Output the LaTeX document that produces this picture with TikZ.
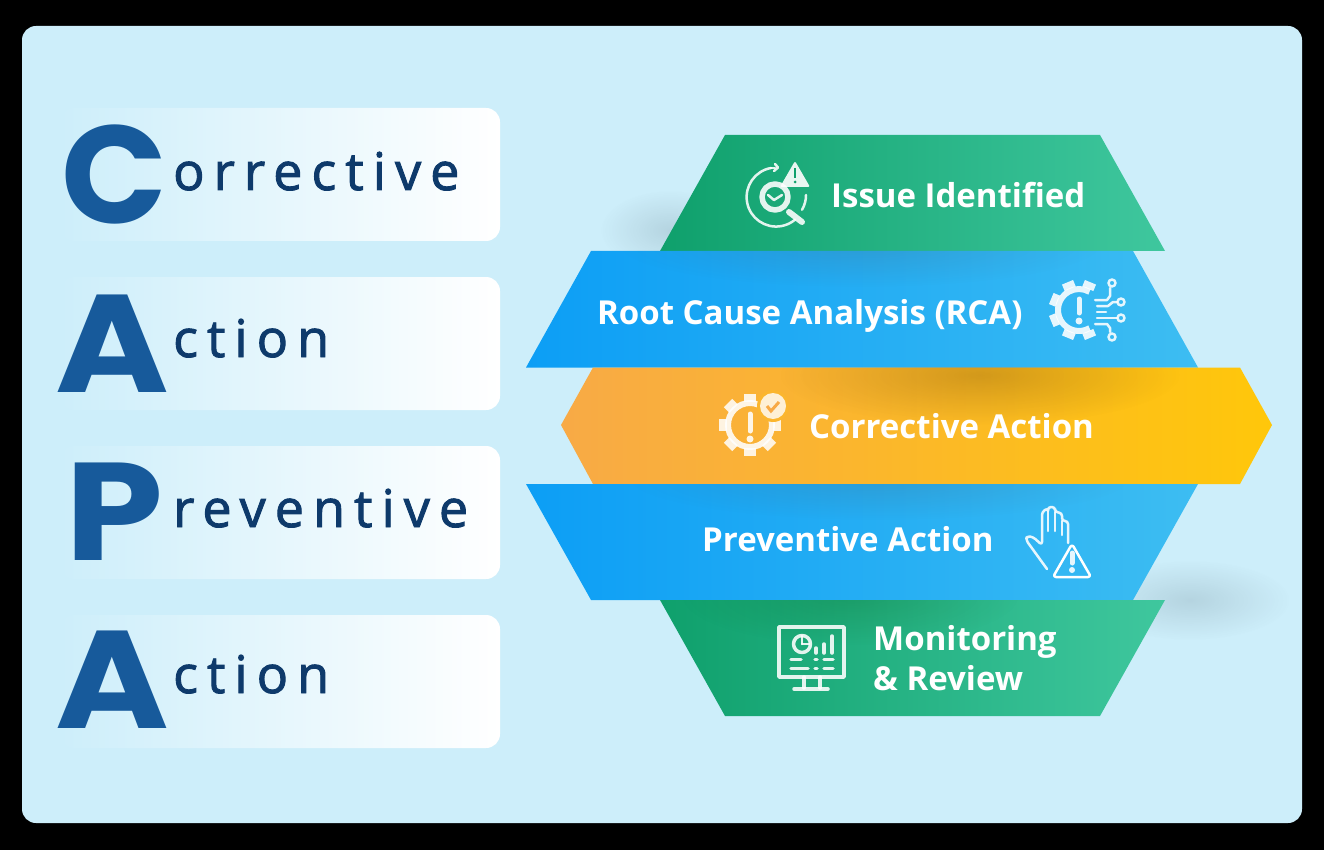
\documentclass[tikz,border=0pt]{standalone}
\usepackage{fontspec}
\usetikzlibrary{fadings}
\setmainfont{Open Sans}
\newfontfamily\capfont{Poppins}
\newfontfamily\wordfont[LetterSpace=17.5,FakeBold=1.8]{Open Sans}

\definecolor{panelblue}{HTML}{CDEEFA}
\definecolor{capblue}{HTML}{175A9B}
\definecolor{wordblue}{HTML}{0E3A6B}
\definecolor{greenL}{HTML}{0FA06C}
\definecolor{greenR}{HTML}{3FC79E}
\definecolor{blueL}{HTML}{0C9EF5}
\definecolor{blueR}{HTML}{3DBDF2}
\definecolor{orangeL}{HTML}{F8AA46}
\definecolor{orangeR}{HTML}{FFC70A}

\tikzfading[name=softblob, inner color=transparent!60, outer color=transparent!100]

\tikzset{
  wordbox/.style={left color=panelblue, middle color=panelblue!75!white, right color=white, rounded corners=14pt},
  capletter/.style={anchor=base, inner sep=0, font=\capfont\bfseries\fontsize{139}{139}\selectfont, text=capblue},
  wordtext/.style={anchor=base west, inner sep=0, font=\wordfont\fontsize{52}{60}\selectfont, text=wordblue},
  bandtext/.style={inner sep=0, text=white, align=left, font=\bfseries\fontsize{33}{39}\selectfont},
  blob/.style={fill=black!65!cyan, path fading=softblob},
  iconline/.style={draw=white, opacity=.88, line width=3.5pt, line cap=round, line join=round},
  iconthin/.style={draw=white, opacity=.88, line width=2.5pt, line cap=round, line join=round},
}

\begin{document}
\begin{tikzpicture}[x=1pt, y=-1pt]

\fill [black] (0,0) rectangle (1324,850) ;
\useasboundingbox (0,0) rectangle (1324,850) ;
\fill [panelblue, rounded corners=14pt] (22,26) rectangle (1302,823) ;

\shade [wordbox] (60,108) rectangle (500,241) ;
\shade [wordbox] (60,277) rectangle (500,410) ;
\shade [wordbox] (60,446) rectangle (500,579) ;
\shade [wordbox] (60,615) rectangle (500,748) ;

\node [capletter] (capC) at (114,224) {C} ;
\node [capletter, xscale=1.11] (capA) at (112.5,392) {A} ;
\node [capletter, xscale=1.13] (capP) at (115,560) {P} ;
\node [capletter, xscale=1.11] (capAb) at (112.5,728) {A} ;

\node [wordtext] (wordC) at (173,190) {orrective} ;
\node [wordtext] (wordA) at (173,357) {ction} ;
\node [wordtext] (wordP) at (173,527) {reventive} ;
\node [wordtext] (wordAb) at (173,693) {ction} ;

\fill [blob, opacity=.45] (670,230) ellipse [x radius=70, y radius=40] ;
\fill [blob, opacity=.45] (1190,600) ellipse [x radius=100, y radius=40] ;

\shade [left color=greenL, right color=greenR] (660,251) -- (725,135) -- (1100,135) -- (1165,251) -- cycle ;
\shade [left color=blueL, right color=blueR] (526,367.5) -- (591,251) -- (1133,251) -- (1198,367.5) -- cycle ;
\shade [left color=orangeL, right color=orangeR] (561,425) -- (593,367.5) -- (1240,367.5) -- (1272,425) -- (1240,484) -- (593,484) -- cycle ;
\shade [left color=blueL, right color=blueR] (526,484) -- (1198,484) -- (1133,600) -- (591,600) -- cycle ;
\shade [left color=greenL, right color=greenR] (660,600) -- (1165,600) -- (1100,716) -- (725,716) -- cycle ;

\begin{scope}
\clip (526,367.5) -- (591,251) -- (1133,251) -- (1198,367.5) -- cycle ;
\fill [blob, opacity=.55] (860,245) ellipse [x radius=240, y radius=42] ;
\end{scope}
\begin{scope}
\clip (593,367.5) rectangle (1240,484) ;
\fill [blob, fill=black!75!orange, opacity=.55] (980,375) ellipse [x radius=200, y radius=50] ;
\end{scope}
\begin{scope}
\clip (526,484) -- (1198,484) -- (1133,600) -- (591,600) -- cycle ;
\fill [blob, opacity=.55] (880,478) ellipse [x radius=250, y radius=42] ;
\end{scope}
\begin{scope}
\clip (660,600) -- (1165,600) -- (1100,716) -- (725,716) -- cycle ;
\fill [blob, fill=black!70!green, opacity=.45] (850,595) ellipse [x radius=170, y radius=50] ;
\end{scope}

\node [bandtext, anchor=base west] (issue) at (831,208) {Issue Identified} ;
\node [bandtext, anchor=base west] (rca) at (597,324) {Root Cause Analysis (RCA)} ;
\node [bandtext, anchor=base west] (corrective) at (809,438) {Corrective Action} ;
\node [bandtext, anchor=base west] (preventive) at (702,551) {Preventive Action} ;
\node [bandtext, anchor=base west] (monitoring) at (873,650) {Monitoring} ;
\node [bandtext, anchor=base west] (review) at (873,690) {\& Review} ;

% issue
\draw [iconthin] (771,168) arc (-100:-310:29.5) ;
\draw [iconthin] (771,168) -- (775,168) ;
\draw [iconthin] (775,164) -- (778,167.5) -- (774,171) ;
\draw [iconthin] (806,195) arc (0:30:29.5) ;
\draw [iconline, line width=5.5pt] (775,197) circle [radius=13] ;
\draw [iconthin] (768,195) -- (774,200) -- (782,195) ;
\draw [iconline, line width=6pt] (789,212) -- (802,222) ;
\fill [white, opacity=.9, rounded corners=2pt] (795,161) -- (810,187) -- (780,187) -- cycle ;
\draw [greenL, line width=2.5pt] (795,168) -- (795,178) ;
\fill [greenL] (795,182) circle [radius=1.5] ;

% rca
\foreach \a in {67.5,112.5,...,292.5}
  \draw [white, opacity=.88, line width=12pt] (\a:23) ++(1079,310) -- ++(\a:7) ;
\draw [iconline, line width=6pt, line cap=butt] (1079,310) ++(60:21) arc (60:300:21) ;
\draw [iconline, line width=5pt] (1079,299) -- (1079,313) ;
\fill [white, opacity=.88] (1079,321) circle [radius=3.5] ;
\draw [iconthin] (1095,300) -- (1107,300) -- (1110,296) -- (1110,288) ;
\draw [iconthin] (1097,306) -- (1108,306) -- (1113,302) -- (1117,302) ;
\draw [iconthin] (1097,312) -- (1106,312) ;
\draw [iconthin] (1097,318) -- (1117,318) ;
\draw [iconthin] (1095,324) -- (1107,324) -- (1110,328) -- (1110,332) ;
\draw [iconthin] (1112,283) circle [radius=3.5] ;
\draw [iconthin] (1121,302) circle [radius=3.5] ;
\draw [iconthin] (1121,318) circle [radius=3.5] ;
\draw [iconthin] (1112,337) circle [radius=3.5] ;

% corrective
\foreach \a in {0,45,...,315}
  \draw [white, opacity=.85, line width=12pt] (\a:23) ++(750,425) -- ++(\a:8) ;
\draw [iconline, line width=6pt] (750,425) circle [radius=22] ;
\fill [orangeL!60!orangeR] (773,406) circle [radius=16] ;
\fill [white, opacity=.8] (773,406) circle [radius=13] ;
\draw [orangeL, line width=3pt] (767,406) -- (771,411) -- (779,402) ;
\draw [iconline, line width=5pt] (750,414) -- (750,431) ;
\fill [white, opacity=.88] (750,439) circle [radius=3.5] ;

% preventive
\draw [iconthin, rounded corners=3pt] (1047,569) -- (1026,540) -- (1027,536) -- (1033,537) -- (1042,545) -- (1042,512) -- (1048,508) -- (1048,512) -- (1048,507) -- (1055,507) -- (1055,512) -- (1062,513) -- (1062,521) -- (1068,521) -- (1068,543) ;
\draw [iconthin] (1048,512) -- (1048,531) ;
\draw [iconthin] (1055,512) -- (1055,531) ;
\draw [iconthin] (1062,521) -- (1062,535) ;
\draw [iconthin, fill=blueR!80!blueL, opacity=1, rounded corners=3pt] (1072,544) -- (1091,577) -- (1053,577) -- cycle ;
\draw [iconline, line width=5pt] (1072,553) -- (1072,563) ;
\fill [white, opacity=.88] (1072,570) circle [radius=3] ;

% monitoring
\draw [iconline] (779,627) rectangle (844,677) ;
\draw [iconline] (804,677) -- (804,688) ;
\draw [iconline] (820,677) -- (820,688) ;
\draw [iconline] (794,689) -- (828,689) ;
\draw [iconline] (802,644) circle [radius=8.5] ;
\draw [iconthin] (802,644) -- (809,644) ;
\draw [iconthin] (802,644) -- (802,636) ;
\draw [iconline] (816,648) -- (816,653) ;
\draw [iconline] (824,644) -- (824,653) ;
\draw [iconline] (832,636) -- (832,653) ;
\draw [iconline] (791,659.5) -- (801,659.5) ;
\draw [iconline] (815,659.5) -- (817,659.5) ;
\draw [iconline] (824,659.5) -- (833,659.5) ;
\draw [iconline] (791,668.5) -- (808,668.5) ;
\draw [iconline] (815,668.5) -- (817,668.5) ;
\draw [iconline] (824,668.5) -- (833,668.5) ;

\end{tikzpicture}
\end{document}
